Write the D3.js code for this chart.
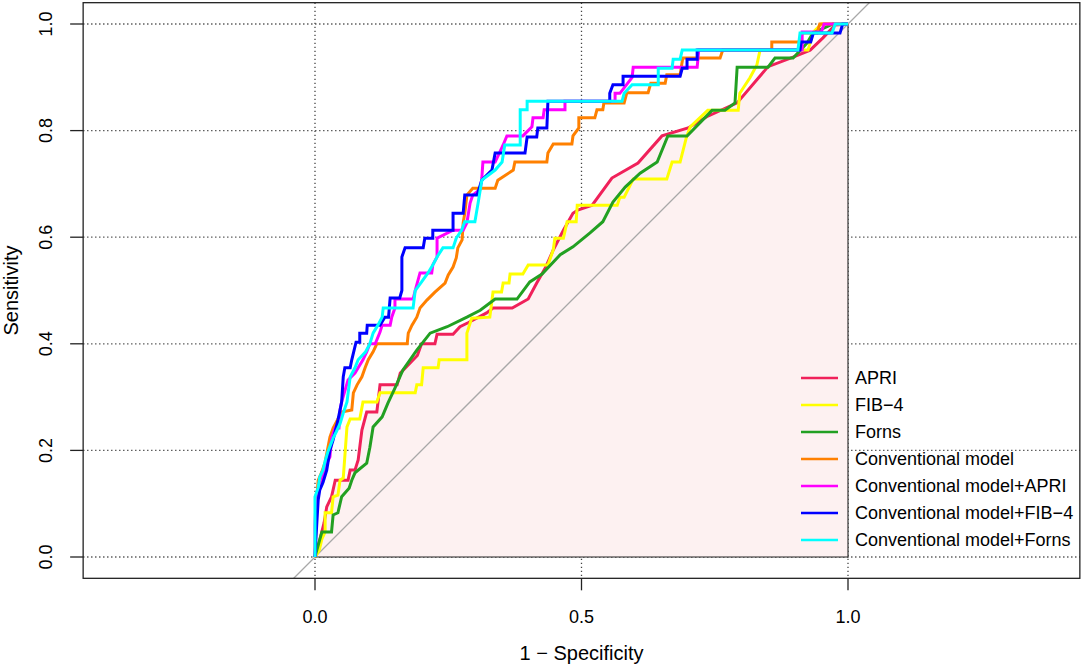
<!DOCTYPE html>
<html>
<head>
<meta charset="utf-8">
<script src="https://cdn.jsdelivr.net/npm/d3@7/dist/d3.min.js"></script>
<style>
  body { margin: 0; background: #fff; }
  svg { display: block; }
  text { font-family: "Liberation Sans", Arial, Helvetica, sans-serif; fill: #000; }
</style>
</head>
<body>
<div id="chart"></div>
<script>
// ROC curves, points are [1 - specificity, sensitivity]
const seriesNames = ["APRI", "FIB\u22124", "Forns", "Conventional model",
  "Conventional model+APRI", "Conventional model+FIB\u22124", "Conventional model+Forns"];
const seriesColors = ["#F0215A", "#FFFF00", "#22A022", "#FF8000", "#FF00FF", "#0000FF", "#00FFFF"];

const apri = [[0,0],[0.002,0.004],[0.017,0.064],[0.022,0.094],[0.031,0.113],[0.038,0.144],[0.062,0.144],
  [0.066,0.163],[0.075,0.163],[0.081,0.182],[0.088,0.238],[0.097,0.272],[0.116,0.272],[0.122,0.323],
  [0.154,0.323],[0.16,0.345],[0.192,0.378],[0.2,0.40],[0.225,0.40],[0.229,0.418],[0.259,0.418],
  [0.272,0.432],[0.288,0.44],[0.322,0.458],[0.334,0.467],[0.37,0.467],[0.40,0.484],[0.416,0.514],
  [0.432,0.542],[0.447,0.576],[0.466,0.613],[0.484,0.645],[0.493,0.651],[0.52,0.66],[0.557,0.711],
  [0.606,0.739],[0.651,0.79],[0.70,0.805],[0.735,0.826],[0.792,0.852],[0.85,0.92],[0.897,0.938],
  [0.929,0.951],[0.953,0.974],[0.976,0.998],[1,1]];

const fib4 = [[0,0],[0.008,0.013],[0.013,0.034],[0.019,0.047],[0.019,0.083],[0.031,0.083],[0.034,0.113],
  [0.043,0.116],[0.047,0.144],[0.053,0.148],[0.06,0.244],[0.066,0.259],[0.084,0.259],[0.09,0.291],
  [0.116,0.291],[0.122,0.308],[0.188,0.308],[0.191,0.323],[0.2,0.323],[0.203,0.355],[0.231,0.355],
  [0.233,0.37],[0.285,0.37],[0.285,0.42],[0.294,0.448],[0.328,0.45],[0.334,0.497],[0.35,0.497],
  [0.353,0.514],[0.364,0.514],[0.366,0.531],[0.39,0.531],[0.40,0.548],[0.437,0.548],[0.447,0.576],
  [0.45,0.598],[0.466,0.598],[0.473,0.629],[0.49,0.629],[0.492,0.66],[0.567,0.66],[0.572,0.675],
  [0.58,0.675],[0.597,0.709],[0.66,0.709],[0.67,0.741],[0.685,0.741],[0.697,0.788],[0.704,0.807],
  [0.737,0.838],[0.794,0.838],[0.797,0.87],[0.816,0.899],[0.829,0.923],[0.835,0.951],[0.925,0.951],
  [0.935,0.985],[0.95,1],[1,1]];

const forns = [[0,0],[0.002,0.008],[0.013,0.047],[0.031,0.047],[0.034,0.079],[0.043,0.083],[0.05,0.113],
  [0.064,0.129],[0.069,0.144],[0.075,0.158],[0.097,0.176],[0.103,0.206],[0.109,0.244],[0.126,0.263],
  [0.137,0.289],[0.150,0.317],[0.165,0.351],[0.191,0.388],[0.216,0.42],[0.248,0.432],[0.285,0.45],
  [0.31,0.463],[0.338,0.484],[0.379,0.484],[0.403,0.516],[0.426,0.531],[0.46,0.567],[0.484,0.582],
  [0.516,0.608],[0.54,0.629],[0.559,0.666],[0.582,0.694],[0.61,0.72],[0.642,0.741],[0.662,0.79],
  [0.698,0.79],[0.745,0.838],[0.769,0.838],[0.788,0.852],[0.792,0.919],[0.85,0.919],[0.863,0.936],
  [0.897,0.936],[0.923,0.964],[0.934,0.983],[0.972,1],[1,1]];

const conventional = [[0,0],[0.002,0.06],[0.004,0.12],[0.006,0.144],[0.013,0.16],[0.019,0.178],
  [0.028,0.225],[0.034,0.242],[0.05,0.272],[0.069,0.276],[0.072,0.308],[0.079,0.323],[0.088,0.338],
  [0.094,0.355],[0.1,0.37],[0.109,0.385],[0.116,0.40],[0.173,0.40],[0.175,0.42],[0.182,0.435],
  [0.191,0.45],[0.197,0.467],[0.21,0.482],[0.225,0.497],[0.244,0.514],[0.25,0.529],[0.259,0.544],
  [0.265,0.561],[0.268,0.58],[0.276,0.595],[0.278,0.627],[0.281,0.645],[0.285,0.679],[0.296,0.692],
  [0.338,0.692],[0.343,0.707],[0.372,0.726],[0.375,0.741],[0.435,0.741],[0.437,0.758],[0.447,0.775],
  [0.482,0.775],[0.484,0.79],[0.495,0.805],[0.495,0.824],[0.525,0.824],[0.529,0.839],[0.54,0.839],
  [0.542,0.852],[0.58,0.852],[0.585,0.871],[0.625,0.871],[0.63,0.889],[0.657,0.889],[0.66,0.905],
  [0.685,0.905],[0.69,0.936],[0.76,0.936],[0.765,0.951],[0.857,0.951],[0.857,0.966],[0.91,0.966],
  [0.914,0.983],[0.942,0.983],[0.947,1],[1,1]];

const convApri = [[0,0],[0,0.06],[0.002,0.113],[0.013,0.144],[0.019,0.169],[0.028,0.188],[0.031,0.223],
  [0.038,0.242],[0.045,0.242],[0.047,0.276],[0.05,0.291],[0.062,0.332],[0.075,0.345],[0.09,0.37],
  [0.097,0.385],[0.103,0.40],[0.113,0.40],[0.122,0.422],[0.126,0.435],[0.141,0.435],[0.144,0.45],
  [0.15,0.467],[0.15,0.484],[0.184,0.484],[0.188,0.50],[0.197,0.533],[0.219,0.533],[0.221,0.548],
  [0.229,0.563],[0.229,0.598],[0.259,0.613],[0.278,0.613],[0.285,0.627],[0.291,0.664],[0.296,0.679],
  [0.31,0.69],[0.313,0.711],[0.315,0.741],[0.338,0.741],[0.353,0.773],[0.36,0.79],[0.39,0.79],
  [0.407,0.807],[0.409,0.824],[0.428,0.824],[0.43,0.839],[0.469,0.839],[0.469,0.855],[0.563,0.855],
  [0.563,0.87],[0.572,0.87],[0.595,0.90],[0.597,0.919],[0.717,0.919],[0.72,0.951],[0.914,0.951],
  [0.914,0.985],[0.95,0.985],[0.955,1],[1,1]];

const convFib4 = [[0,0],[0.002,0.04],[0.006,0.107],[0.009,0.126],[0.015,0.14],[0.022,0.163],[0.028,0.2],
  [0.034,0.22],[0.043,0.257],[0.047,0.276],[0.05,0.291],[0.053,0.338],[0.056,0.355],[0.066,0.355],
  [0.069,0.37],[0.077,0.403],[0.084,0.403],[0.084,0.42],[0.097,0.42],[0.098,0.435],[0.122,0.435],
  [0.131,0.45],[0.138,0.45],[0.141,0.486],[0.159,0.486],[0.163,0.50],[0.163,0.563],[0.169,0.58],
  [0.203,0.58],[0.206,0.598],[0.221,0.598],[0.221,0.613],[0.259,0.613],[0.259,0.645],[0.278,0.645],
  [0.281,0.679],[0.304,0.679],[0.313,0.707],[0.332,0.726],[0.338,0.758],[0.394,0.758],[0.398,0.788],
  [0.416,0.788],[0.418,0.805],[0.435,0.805],[0.437,0.855],[0.553,0.855],[0.553,0.87],[0.559,0.886],
  [0.578,0.886],[0.578,0.902],[0.685,0.902],[0.689,0.917],[0.698,0.917],[0.698,0.934],[0.717,0.934],
  [0.717,0.951],[0.91,0.951],[0.912,0.966],[0.93,0.966],[0.935,0.983],[0.985,0.983],[0.99,1],[1,1]];

const convForns = [[0,0],[0,0.113],[0.006,0.13],[0.009,0.15],[0.015,0.163],[0.019,0.18],[0.024,0.197],
  [0.034,0.223],[0.04,0.235],[0.047,0.25],[0.053,0.27],[0.06,0.291],[0.066,0.338],[0.075,0.355],
  [0.081,0.37],[0.095,0.385],[0.103,0.40],[0.109,0.42],[0.118,0.435],[0.126,0.45],[0.128,0.467],
  [0.184,0.467],[0.188,0.50],[0.2,0.516],[0.212,0.533],[0.221,0.548],[0.229,0.563],[0.24,0.58],
  [0.259,0.58],[0.265,0.598],[0.275,0.613],[0.281,0.629],[0.30,0.629],[0.306,0.664],[0.313,0.707],
  [0.338,0.726],[0.351,0.741],[0.356,0.773],[0.385,0.773],[0.385,0.839],[0.398,0.839],[0.398,0.855],
  [0.576,0.855],[0.58,0.87],[0.595,0.886],[0.644,0.886],[0.644,0.917],[0.67,0.917],[0.672,0.934],
  [0.685,0.934],[0.689,0.951],[0.906,0.951],[0.91,0.983],[0.97,0.983],[0.976,1],[1,1]];

const seriesData = [apri, fib4, forns, conventional, convApri, convFib4, convForns];

const xTicks = [0, 0.5, 1];
const yTicks = [0, 0.2, 0.4, 0.6, 0.8, 1];

// layout
const W = 1084, H = 665;
const xlim = [-0.435, 1.435], ylim = [-0.04, 1.04];

const x = d3.scaleLinear().domain([0, 1]).range([315, 848]);
const y = d3.scaleLinear().domain([0, 1]).range([557, 24]);

const svg = d3.select("#chart").append("svg")
  .attr("width", W).attr("height", H);

const bx0 = x(xlim[0]), bx1 = x(xlim[1]), by0 = y(ylim[1]), by1 = y(ylim[0]);

svg.append("clipPath").attr("id", "plotclip")
  .append("rect")
  .attr("x", bx0).attr("y", by0)
  .attr("width", bx1 - bx0).attr("height", by1 - by0);

const plot = svg.append("g").attr("clip-path", "url(#plotclip)");

// grid
plot.selectAll(".hgrid").data(yTicks).enter().append("line")
  .attr("x1", bx0).attr("x2", bx1)
  .attr("y1", d => y(d)).attr("y2", d => y(d))
  .attr("stroke", "#444").attr("stroke-width", 1.3)
  .attr("stroke-dasharray", "1.3,2.7");
plot.selectAll(".vgrid").data(xTicks).enter().append("line")
  .attr("y1", by0).attr("y2", by1)
  .attr("x1", d => x(d)).attr("x2", d => x(d))
  .attr("stroke", "#444").attr("stroke-width", 1.3)
  .attr("stroke-dasharray", "1.3,2.7");

// auc polygon under the first curve
const line = d3.line().x(d => x(d[0])).y(d => y(d[1]));
plot.append("path")
  .attr("d", line(apri.concat([[1, 0], [0, 0]])) + "Z")
  .attr("fill", "#FDF1F1")
  .attr("stroke", "#222").attr("stroke-width", 1.1);

// identity line
plot.append("line")
  .attr("x1", x(-1)).attr("y1", y(-1))
  .attr("x2", x(2)).attr("y2", y(2))
  .attr("stroke", "#A8A8A8").attr("stroke-width", 1.3);

// curves
seriesData.forEach((pts, i) => {
  plot.append("path")
    .attr("d", line(pts))
    .attr("fill", "none")
    .attr("stroke", seriesColors[i])
    .attr("stroke-width", 3)
    .attr("stroke-linejoin", "miter");
});

// box
svg.append("rect")
  .attr("x", bx0).attr("y", by0)
  .attr("width", bx1 - bx0).attr("height", by1 - by0)
  .attr("fill", "none").attr("stroke", "#222").attr("stroke-width", 1.3);

// x axis
const xAxis = svg.append("g");
xAxis.selectAll("line").data(xTicks).enter().append("line")
  .attr("x1", d => x(d)).attr("x2", d => x(d))
  .attr("y1", by1).attr("y2", by1 + 12)
  .attr("stroke", "#222").attr("stroke-width", 1.3);
xAxis.selectAll("text").data(xTicks).enter().append("text")
  .attr("x", d => x(d)).attr("y", 623)
  .attr("text-anchor", "middle")
  .style("font-size", "18px")
  .text(d => d3.format(".1f")(d));

// y axis
const yAxis = svg.append("g");
yAxis.selectAll("line").data(yTicks).enter().append("line")
  .attr("x1", bx0 - 13).attr("x2", bx0)
  .attr("y1", d => y(d)).attr("y2", d => y(d))
  .attr("stroke", "#222").attr("stroke-width", 1.3);
yAxis.selectAll("text").data(yTicks).enter().append("text")
  .attr("transform", d => `translate(52,${y(d)}) rotate(-90)`)
  .attr("text-anchor", "middle")
  .style("font-size", "18px")
  .text(d => d3.format(".1f")(d));

// axis titles
svg.append("text")
  .attr("x", (bx0 + bx1) / 2).attr("y", 660)
  .attr("text-anchor", "middle")
  .style("font-size", "20px")
  .text("1 \u2212 Specificity");
svg.append("text")
  .attr("transform", `translate(18,${(by0 + by1) / 2}) rotate(-90)`)
  .attr("text-anchor", "middle")
  .style("font-size", "20px")
  .text("Sensitivity");

// legend
const legend = svg.append("g");
const rows = legend.selectAll("g").data(seriesNames).enter().append("g")
  .attr("transform", (d, i) => `translate(0,${378 + i * 27})`);
rows.append("line")
  .attr("x1", 801).attr("x2", 838)
  .attr("stroke", (d, i) => seriesColors[i])
  .attr("stroke-width", 2.5);
rows.append("text")
  .attr("x", 855).attr("dy", "0.36em")
  .style("font-size", "18px")
  .text(d => d);
</script>
</body>
</html>
